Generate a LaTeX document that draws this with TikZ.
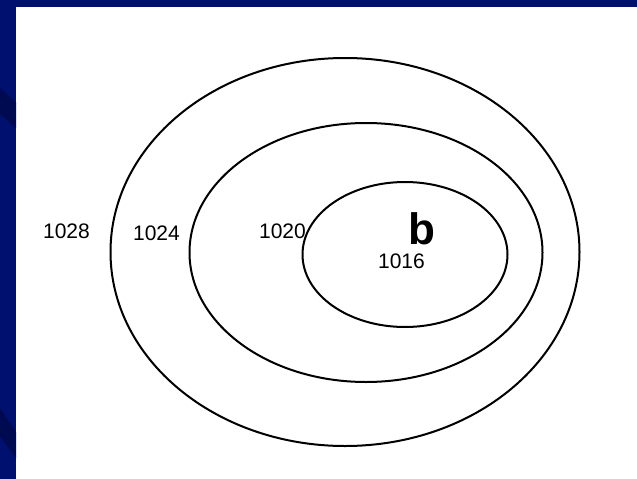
\documentclass[tikz,border=0pt]{standalone}
\usepackage{fontspec}
\setmainfont{Liberation Sans}
\definecolor{navy}{RGB}{0,16,110}
\definecolor{navydark}{RGB}{0,10,80}
\begin{document}
\begin{tikzpicture}[x=1pt,y=-1pt,
  ring/.style={draw=black,line width=2pt},
  lbl/.style={font=\fontsize{21}{21}\selectfont,inner sep=0pt},
  big/.style={font=\fontsize{44}{44}\selectfont\bfseries,inner sep=0pt}]
\useasboundingbox (0,0) rectangle (637,479);
\fill[white] (0,0) rectangle (637,479);
% frame
\fill[navy] (0,0) rectangle (637,7);
\fill[navy] (0,0) rectangle (16,479);
\fill[navydark] (0,88) -- (16,102) -- (16,128) -- (0,114) -- cycle;
\fill[navydark] (0,408) -- (16,432) -- (16,458) -- (0,436) -- cycle;
% ellipses
\draw[ring] (345,252) ellipse [x radius=234.5, y radius=194];
\draw[ring] (366,252.5) ellipse [x radius=176.5, y radius=129.5];
\draw[ring] (405,254.5) ellipse [x radius=102.5, y radius=72.5];
% labels
\node[lbl] (l1028) at (66.5,231) {1028};
\node[lbl] (l1024) at (156.5,233) {1024};
\node[lbl] (l1020) at (282.5,231) {1020};
\node[big] (b) at (421.5,229) {b};
\node[lbl] (l1016) at (401.5,261) {1016};
\end{tikzpicture}
\end{document}
